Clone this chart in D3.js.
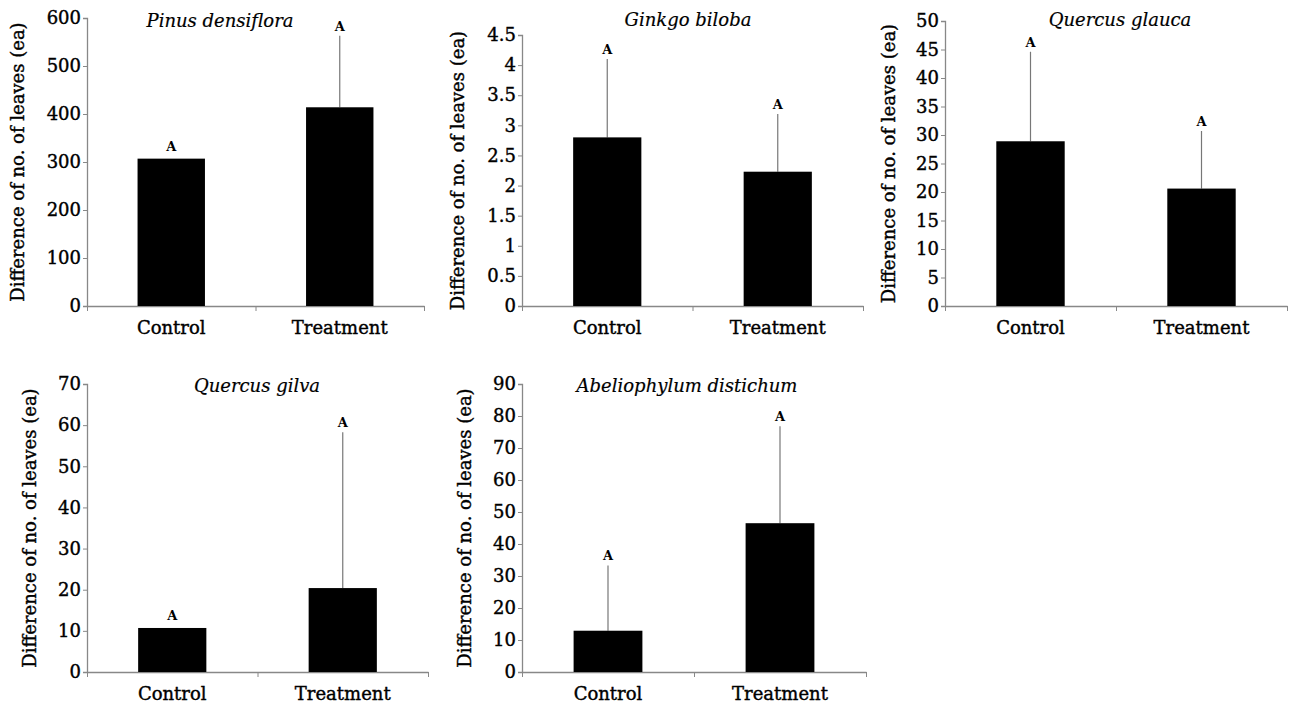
<!DOCTYPE html>
<html>
<head>
<meta charset="utf-8">
<script src="https://cdn.jsdelivr.net/npm/d3@7"></script>
<style>
  body { margin: 0; background: #fff; }
  text { font-family: "DejaVu Serif", serif; fill: #000; }
</style>
</head>
<body>
<script>
// data
var groups = ["Control", "Treatment"];
var species = ["Pinus densiflora", "Ginkgo biloba", "Quercus glauca", "Quercus gilva", "Abeliophylum distichum"];
var means = [[307, 414], [2.8, 2.23], [28.9, 20.6], [10.7, 20.4], [12.9, 46.5]];
var sds = [[0, 149], [1.3, 0.96], [15.7, 10.1], [0, 37.9], [20.4, 30.3]];
var letters = [["A", "A"], ["A", "A"], ["A", "A"], ["A", "A"], ["A", "A"]];
var yMax = [600, 4.5, 50, 70, 90];
var yStep = [100, 0.5, 5, 10, 10];

// layout of each panel (axis frame in page pixels)
var frames = [
  { x0: 87, x1: 424, top: 18, bottom: 306, titleX: 220, titleY: 27, labelOff: 69 },
  { x0: 522, x1: 863, top: 35, bottom: 306, titleX: 688, titleY: 26, labelOff: 64 },
  { x0: 945, x1: 1287, top: 21, bottom: 306, titleX: 1120, titleY: 26, labelOff: 56 },
  { x0: 87, x1: 428, top: 384, bottom: 672, titleX: 257, titleY: 392, labelOff: 57 },
  { x0: 522, x1: 866, top: 384, bottom: 672, titleX: 687, titleY: 392, labelOff: 57 }
];

var w = 1289;
var h = 706;

var svg = d3.select("body").append("svg").attr("width", w).attr("height", h);

frames.forEach(function (f, p) {
  var g = svg.append("g");

  var xScale = d3.scaleBand().domain(groups).range([f.x0, f.x1]);
  var yScale = d3.scaleLinear().domain([0, yMax[p]]).range([f.bottom, f.top]);

  var ticks = d3.range(0, yMax[p] + yStep[p] / 2, yStep[p]);

  //y axis
  var yAxis = g.append("g")
    .attr("transform", "translate(" + f.x0 + ",0)")
    .call(d3.axisLeft(yScale).tickValues(ticks).tickSize(4).tickPadding(2)
      .tickFormat(function (d) { return +d.toFixed(1); }));
  yAxis.select(".domain").attr("stroke", "#888").attr("stroke-width", 1.3);
  yAxis.selectAll(".tick line").attr("stroke", "#888");
  yAxis.selectAll(".tick text")
    .attr("font-family", "DejaVu Serif")
    .attr("font-size", "18px")
    .attr("fill", "#000")
    .attr("stroke", "#000")
    .attr("stroke-width", 0.4);

  //x axis: boundary ticks
  var xTicks = d3.scalePoint().domain([0, 1, 2]).range([f.x0, f.x1]);
  var xAxis = g.append("g")
    .attr("transform", "translate(0," + f.bottom + ")")
    .call(d3.axisBottom(xTicks).tickSize(5).tickSizeOuter(0).tickFormat(""));
  xAxis.select(".domain").attr("stroke", "#888").attr("stroke-width", 1.3);
  xAxis.selectAll(".tick line").attr("stroke", "#888");

  //x labels
  g.selectAll(".xlab")
    .data(groups)
    .enter()
    .append("text")
    .attr("text-anchor", "middle")
    .attr("x", function (d) { return xScale(d) + xScale.bandwidth() / 2; })
    .attr("y", f.bottom + 28)
    .attr("font-size", "18px")
    .attr("stroke", "#000")
    .attr("stroke-width", 0.4)
    .text(function (d) { return d; });

  var bw = xScale.bandwidth() * 0.4;

  //error bars (upper only)
  g.selectAll(".err")
    .data(groups)
    .enter()
    .append("line")
    .attr("x1", function (d) { return xScale(d) + xScale.bandwidth() / 2; })
    .attr("x2", function (d) { return xScale(d) + xScale.bandwidth() / 2; })
    .attr("y1", function (d, i) { return yScale(means[p][i]); })
    .attr("y2", function (d, i) { return yScale(means[p][i] + sds[p][i]); })
    .attr("stroke", "#777")
    .attr("stroke-width", 1.2);

  //bars
  g.selectAll(".bar")
    .data(groups)
    .enter()
    .append("rect")
    .attr("x", function (d) { return xScale(d) + xScale.bandwidth() / 2 - bw / 2; })
    .attr("y", function (d, i) { return yScale(means[p][i]); })
    .attr("width", bw)
    .attr("height", function (d, i) { return f.bottom - yScale(means[p][i]); })
    .attr("fill", "#000");

  //letters
  g.selectAll(".let")
    .data(groups)
    .enter()
    .append("text")
    .attr("text-anchor", "middle")
    .attr("x", function (d) { return xScale(d) + xScale.bandwidth() / 2; })
    .attr("y", function (d, i) {
      return yScale(means[p][i] + sds[p][i]) - (sds[p][i] > 0 ? 5 : 8);
    })
    .attr("font-size", "13px")
    .attr("font-weight", "bold")
    .text(function (d, i) { return letters[p][i]; });

  //title
  g.append("text")
    .attr("text-anchor", "middle")
    .attr("x", f.titleX)
    .attr("y", f.titleY)
    .attr("font-size", "18px")
    .attr("font-style", "italic")
    .attr("stroke", "#000")
    .attr("stroke-width", 0.2)
    .text(species[p]);

  //y label
  var cy = (f.top + f.bottom) / 2;
  var cx = f.x0 - f.labelOff;
  g.append("text")
    .attr("text-anchor", "middle")
    .attr("transform", "translate(" + cx + "," + cy + ") rotate(-90)")
    .attr("dy", "0.35em")
    .attr("font-size", "18px")
    .attr("stroke", "#000")
    .attr("stroke-width", 0.4)
    .text("Difference of no. of leaves (ea)");
});
</script>
</body>
</html>
